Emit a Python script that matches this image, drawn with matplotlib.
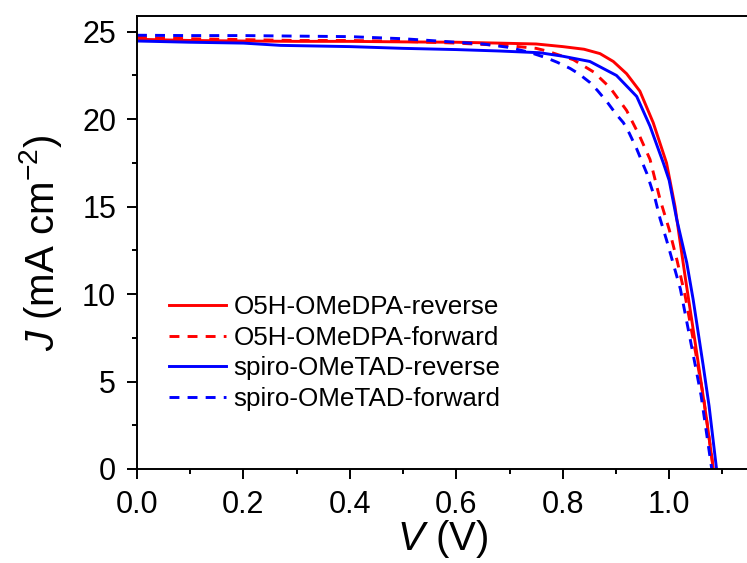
import matplotlib
matplotlib.use("Agg")
import matplotlib.pyplot as plt
import matplotlib.ticker as ticker

plt.rcParams["font.family"] = ["Liberation Sans", "DejaVu Sans"]
plt.rcParams["mathtext.fontset"] = "custom"
plt.rcParams["mathtext.rm"] = "Liberation Sans"
plt.rcParams["mathtext.it"] = "Liberation Sans:italic"

# O5H-OMeDPA, reverse scan
v_o5h_rev = [0, 0.1, 0.2, 0.3, 0.4, 0.5, 0.6, 0.68, 0.75, 0.8, 0.84, 0.87,
             0.895, 0.92, 0.945, 0.97, 0.995, 1.011, 1.03, 1.05, 1.07, 1.083]
j_o5h_rev = [24.57, 24.5, 24.47, 24.45, 24.45, 24.42, 24.4, 24.35, 24.3, 24.15,
             24.0, 23.75, 23.3, 22.6, 21.6, 19.8, 17.5, 15.0, 11.0, 7.0, 2.9, 0]

# O5H-OMeDPA, forward scan
v_o5h_fwd = [0, 0.1, 0.2, 0.3, 0.4, 0.5, 0.6, 0.7, 0.75, 0.77, 0.82, 0.858,
             0.889, 0.92, 0.945, 0.964, 0.983, 1.0, 1.015, 1.03, 1.05, 1.065,
             1.083]
j_o5h_fwd = [24.68, 24.6, 24.55, 24.5, 24.5, 24.45, 24.35, 24.2, 24.05, 23.9,
             23.4, 22.7, 21.8, 20.5, 19.0, 17.7, 15.4, 13.7, 11.9, 9.9, 6.6,
             4.0, 0]

# spiro-OMeTAD, reverse scan
v_spiro_rev = [0, 0.1, 0.2, 0.27, 0.4, 0.5, 0.6, 0.68, 0.757, 0.8, 0.851,
               0.901, 0.939, 0.964, 0.989, 1.0, 1.014, 1.033, 1.045, 1.064,
               1.075, 1.089]
j_spiro_rev = [24.47, 24.4, 24.35, 24.22, 24.15, 24.05, 23.98, 23.9, 23.8, 23.6,
               23.3, 22.5, 21.3, 19.6, 17.5, 16.5, 14.3, 11.8, 9.7, 5.9,
               3.6, 0]

# spiro-OMeTAD, forward scan
v_spiro_fwd = [0, 0.1, 0.2, 0.3, 0.4, 0.5, 0.55, 0.65, 0.7, 0.74, 0.77, 0.79,
               0.814, 0.83, 0.851, 0.865, 0.883, 0.9, 0.914, 0.925, 0.939,
               0.958, 0.974, 0.983, 0.995, 1.021, 1.046, 1.06, 1.08]
j_spiro_fwd = [24.8, 24.78, 24.78, 24.75, 24.72, 24.6, 24.5, 24.3, 24.1, 23.8,
               23.5, 23.25, 22.9, 22.6, 22.1, 21.65, 21.0, 20.3, 19.8, 19.2,
               18.3, 16.9, 15.4, 14.3, 13.1, 10.3, 6.4, 4.2, 0]

labels = ["O5H-OMeDPA-reverse", "O5H-OMeDPA-forward",
          "spiro-OMeTAD-reverse", "spiro-OMeTAD-forward"]

fig = plt.figure(figsize=(7.47, 5.63), dpi=100)
ax = fig.add_axes([137 / 747, 94 / 563, 612 / 747, 453 / 563])

DASH = (0, (3.4, 2.8))
LW = 2.1
ax.plot(v_o5h_rev, j_o5h_rev, color="#ff0000", lw=LW, label=labels[0])
ax.plot(v_o5h_fwd, j_o5h_fwd, color="#ff0000", lw=LW, ls=DASH, label=labels[1])
ax.plot(v_spiro_rev, j_spiro_rev, color="#0000ff", lw=LW, label=labels[2])
ax.plot(v_spiro_fwd, j_spiro_fwd, color="#0000ff", lw=LW, ls=DASH, label=labels[3])

ax.set_xlim(0, 1.15)
ax.set_ylim(0, 25.9)
ax.xaxis.set_major_locator(ticker.MultipleLocator(0.2))
ax.xaxis.set_minor_locator(ticker.MultipleLocator(0.1))
ax.xaxis.set_major_formatter(ticker.FormatStrFormatter("%.1f"))
ax.yaxis.set_major_locator(ticker.MultipleLocator(5))
ax.yaxis.set_minor_locator(ticker.MultipleLocator(2.5))
ax.tick_params(which="both", direction="out", width=1.4, labelsize=22, pad=8)
ax.tick_params(which="major", length=7)
ax.tick_params(which="minor", length=3.6)
for s in ax.spines.values():
    s.set_linewidth(1.4)

ax.set_xlabel(r"$V$ (V)", fontsize=29, labelpad=-1)
ax.set_ylabel(r"$J$ (mA cm$^{-2}$)", fontsize=29, labelpad=13)

ax.legend(loc="upper left", bbox_to_anchor=(0.035, 0.406), frameon=False,
          fontsize=18.7, handlelength=2.2, handletextpad=0.3, labelspacing=0.25,
          borderaxespad=0)

fig.savefig("out.png", dpi=100)
